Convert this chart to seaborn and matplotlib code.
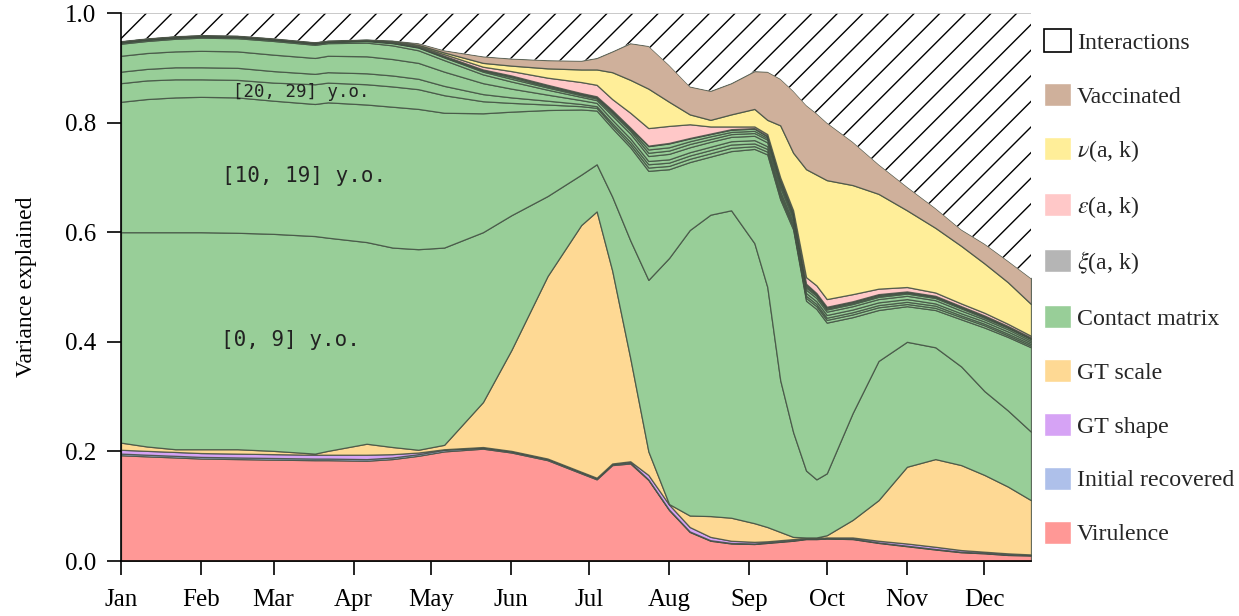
import numpy as np
import seaborn as sns
import matplotlib.pyplot as plt
from matplotlib.patches import Patch
from matplotlib.collections import LineCollection

# day of year for each sample
days = [0, 10, 21, 31, 45, 59, 75, 80, 95, 105, 115, 125, 140, 151, 165, 178, 184, 190, 197, 204, 212,
        220, 228, 236, 245, 250, 255, 260, 265, 269, 273, 283, 293, 304, 315, 325, 334, 343, 352]

# share of variance explained by each component (stacked bottom to top)
virulence = [.193, .191, .189, .187, .186, .185, .184, .184, .183, .186, .192, .200, .205, .198, .184, .160, .149, .175, .178, .148, .093,
             .053, .037, .032, .031, .033, .035, .037, .040, .040, .041, .040, .033, .027, .021, .016, .014, .011, .010]
initial_recovered = [.003, .003, .003, .003, .003, .003, .003, .003, .003, .003, .003, .003, .002, .002, .002, .002, .002, .002, .002, .001, .001,
                     .001, .001, .001, .001, .001, .001, .001, .001, .001, .001, .001, .001, .001, .001, .001, .001, .001, .001]
gt_shape = [.007, .007, .007, .007, .007, .007, .007, .007, .008, .006, .003, .001, .001, .001, .001, .001, .001, .001, .002, .008, .009,
            .008, .006, .004, .003, .002, .002, .002, .001, .001, .001, .002, .003, .004, .004, .003, .002, .002, .001]
gt_scale = [.013, .008, .005, .007, .008, .006, .002, .007, .020, .013, .005, .008, .082, .184, .333, .450, .486, .352, .188, .043, .001,
            .021, .038, .042, .034, .026, .015, .004, .001, .001, .004, .032, .074, .140, .160, .155, .140, .122, .099]
# contact matrix, by age group
contact_0_9 = [.384, .391, .396, .396, .395, .396, .397, .389, .368, .364, .366, .360, .310, .246, .146, .092, .086, .135, .215, .313, .449,
               .521, .550, .561, .511, .438, .277, .191, .122, .106, .113, .195, .254, .228, .204, .180, .153, .139, .125]
contact_10_19 = [.238, .243, .246, .247, .247, .243, .241, .247, .251, .257, .256, .246, .217, .189, .157, .119, .098, .125, .170, .199, .162,
                 .124, .106, .108, .172, .242, .330, .370, .310, .311, .275, .175, .093, .065, .068, .086, .116, .134, .154]
contact_20_29 = [.034, .034, .033, .032, .032, .033, .036, .036, .037, .037, .036, .032, .022, .016, .010, .006, .005, .005, .005, .006, .006,
                 .006, .006, .006, .005, .005, .005, .005, .005, .005, .005, .005, .005, .004, .004, .004, .004, .003, .003]
contact_30_39 = [.021, .021, .022, .022, .022, .021, .019, .019, .020, .020, .019, .017, .013, .010, .007, .004, .003, .004, .005, .006, .006,
                 .006, .006, .006, .005, .005, .005, .004, .004, .004, .004, .004, .004, .004, .004, .003, .003, .003, .003]
contact_40_49 = [.029, .029, .029, .030, .030, .030, .029, .030, .031, .030, .029, .026, .020, .016, .011, .007, .006, .006, .006, .006, .006,
                 .006, .006, .006, .006, .005, .005, .005, .005, .005, .005, .005, .005, .005, .004, .004, .004, .004, .003]
contact_50_59 = [.022, .022, .023, .024, .024, .025, .024, .023, .025, .025, .023, .021, .016, .013, .009, .006, .005, .008, .009, .009, .010,
                 .009, .009, .008, .008, .007, .007, .006, .006, .006, .006, .006, .006, .006, .006, .005, .004, .004, .003]
contact_60_69 = [.002, .002, .002, .002, .002, .002, .002, .002, .003, .004, .005, .005, .005, .005, .004, .003, .003, .004, .005, .006, .006,
                 .006, .005, .005, .005, .005, .005, .004, .004, .004, .004, .004, .004, .004, .004, .004, .003, .003, .003]
contact_70_79 = [.001, .001, .001, .001, .001, .001, .001, .001, .001, .001, .001, .001, .002, .003, .002, .002, .002, .003, .003, .006, .006,
                 .005, .005, .004, .004, .003, .004, .003, .003, .002, .002, .002, .002, .002, .002, .002, .002, .001, .001]
contact_80 = [0, 0, 0, 0, 0, 0, 0, 0, 0, 0, 0, .001, .001, .002, .002, .001, .001, .002, .002, .006, .007,
              .005, .004, .004, .004, .003, .004, .003, .003, .002, .002, .002, .002, .001, .001, .001, .001, .001, .001]
xi = [.001] * 39
epsilon = [0, 0, 0, 0, 0, 0, 0, 0, 0, .001, .001, .003, .005, .008, .013, .020, .021, .020, .027, .032, .031,
           .025, .013, .005, .003, .003, .004, .004, .012, .014, .014, .013, .010, .008, .006, .005, .005, .004, .003]
nu = [0, 0, 0, 0, 0, 0, 0, 0, 0, .001, .002, .003, .007, .010, .017, .023, .028, .049, .060, .072, .044,
      .018, .012, .022, .032, .026, .095, .105, .197, .202, .217, .199, .173, .140, .118, .105, .090, .076, .058]
vaccinated = [.001, .001, .001, .001, .001, .001, .001, .001, .001, .001, .003, .004, .012, .013, .015, .016, .021, .038, .067, .078, .067,
              .051, .053, .057, .069, .088, .085, .113, .117, .112, .105, .079, .054, .043, .036, .030, .036, .039, .047]

month_starts = [0, 31, 59, 90, 120, 151, 181, 212, 243, 273, 304, 334]
month_labels = ["Jan", "Feb", "Mar", "Apr", "May", "Jun", "Jul", "Aug", "Sep", "Oct", "Nov", "Dec"]

sns.set_theme(style="ticks")
plt.rcParams["font.family"] = ["Liberation Serif", "DejaVu Serif"]
plt.rcParams["mathtext.fontset"] = "stix"

c_vir, c_rec, c_shape, c_scale = "#ff9896", "#aec0ea", "#d6a3f5", "#fed994"
c_contact, c_xi, c_eps, c_nu, c_vac = "#98ce98", "#b5b5b5", "#ffc8c8", "#ffee99", "#cfb09b"

contact = [contact_0_9, contact_10_19, contact_20_29, contact_30_39, contact_40_49,
           contact_50_59, contact_60_69, contact_70_79, contact_80]
layers = [virulence, initial_recovered, gt_shape, gt_scale] + contact + [xi, epsilon, nu, vaccinated]
colors = [c_vir, c_rec, c_shape, c_scale] + [c_contact] * len(contact) + [c_xi, c_eps, c_nu, c_vac]

fig = plt.figure(figsize=(12.39, 6.16), dpi=100)
ax = fig.add_axes([121 / 1239, 55 / 616, 910 / 1239, 548 / 616])

ax.stackplot(days, *layers, colors=colors, edgecolor=(0.25, 0.3, 0.25, 0.8), linewidth=0.9)

# interactions: remainder up to 1, hatched
top = np.sum(np.array(layers), axis=0)
poly = ax.fill_between(days, top, 1.0, facecolor="white", edgecolor="none")
step = 25.6 / 910
rise = 548 / 910
segs = [[(x0, 0), (x0 + rise, 1)] for x0 in np.arange(-rise, 1.0, step)]
hatch = LineCollection(segs, transform=ax.transAxes, colors="black", linewidths=1.0)
ax.add_collection(hatch, autolim=False)
hatch.set_clip_path(poly.get_paths()[0], ax.transData)
ax.axhline(1.0, color="#c0c0c0", lw=1.2)

ax.text(38.7, 0.403, "[0, 9] y.o.", family="DejaVu Sans Mono", fontsize=15, va="center", color="#222222")
ax.text(39.1, 0.703, "[10, 19] y.o.", family="DejaVu Sans Mono", fontsize=15, va="center", color="#222222")
ax.text(43.3, 0.856, "[20, 29] y.o.", family="DejaVu Sans Mono", fontsize=12.5, va="center", color="#222222")

ax.set_xlim(0, 352)
ax.set_ylim(0, 1.0)
ax.set_xticks(month_starts)
ax.set_xticklabels(month_labels)
ax.set_yticks([0, 0.2, 0.4, 0.6, 0.8, 1.0])
ax.set_yticklabels(["0.0", "0.2", "0.4", "0.6", "0.8", "1.0"])
ax.tick_params(axis="both", length=10, width=1.2, color="black", labelsize=18, labelcolor="black")
ax.tick_params(axis="y", pad=8)
ax.tick_params(axis="x", pad=10)
ax.set_ylabel("Variance explained", fontsize=17, labelpad=20, color="black")
sns.despine(ax=ax, top=True, right=True)
for side in ["left", "bottom"]:
    ax.spines[side].set_color("black")
    ax.spines[side].set_linewidth(1.2)

handles = [
    Patch(facecolor="white", edgecolor="black", linewidth=1.2),
    Patch(facecolor=c_vac), Patch(facecolor=c_nu), Patch(facecolor=c_eps), Patch(facecolor=c_xi),
    Patch(facecolor=c_contact), Patch(facecolor=c_scale), Patch(facecolor=c_shape),
    Patch(facecolor=c_rec), Patch(facecolor=c_vir),
]
labels = ["Interactions", "Vaccinated", r"$\nu$(a, k)", r"$\varepsilon$(a, k)", r"$\xi$(a, k)",
          "Contact matrix", "GT scale", "GT shape", "Initial recovered", "Virulence"]
fig.legend(handles, labels, loc="upper left", bbox_to_anchor=(1044 / 1239, 1 - 29 / 616),
           frameon=False, fontsize=17.2, handlelength=1.13, handleheight=1.13, labelspacing=1.22,
           handletextpad=0.25, borderpad=0, borderaxespad=0)

fig.savefig("out.png", dpi=100)
